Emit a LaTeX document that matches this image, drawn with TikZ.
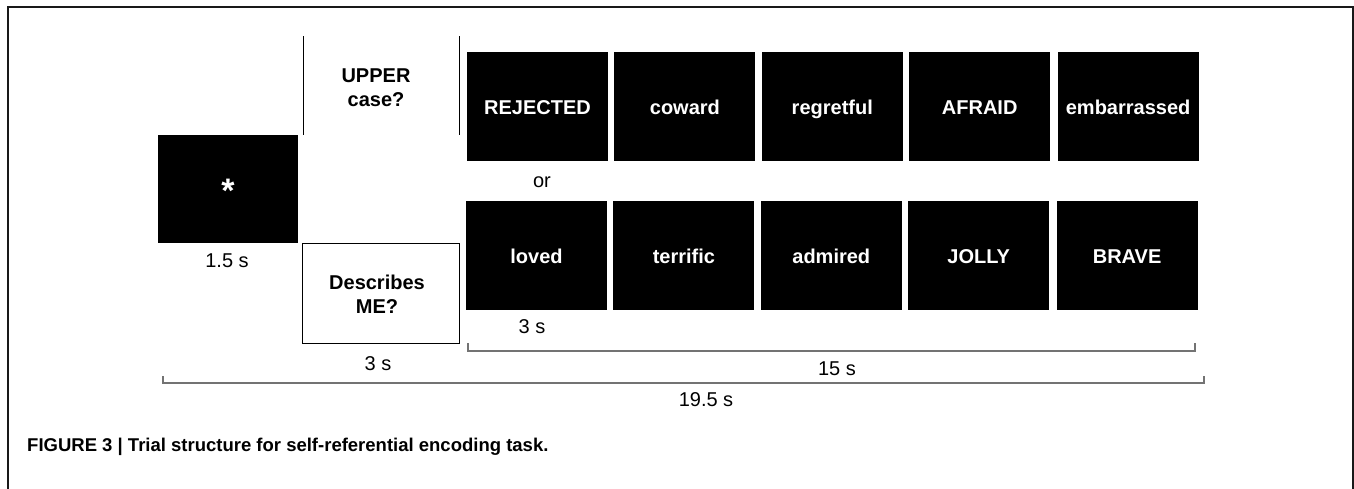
\documentclass[tikz,border=0pt]{standalone}
\usepackage{fontspec}
\setmainfont{Liberation Sans}
\usepackage{graphicx}
\usepackage{tikz}
\usetikzlibrary{positioning}

\begin{document}
\begin{tikzpicture}[
  x=1pt, y=-1pt,
  every node/.style={inner sep=0pt, font=\fontsize{20}{24}\selectfont},
  word/.style={fill=black, text=white, minimum width=141pt, minimum height=109pt,
    text height=20pt, text depth=4pt, font=\bfseries\fontsize{20}{24}\selectfont},
  prompt/.style={align=center, font=\bfseries\fontsize{20}{24}\selectfont},
  bracket/.style={draw=black!55, line width=1.2pt},
  frame/.style={draw=black!90, line width=1.5pt}
]
\useasboundingbox (0,0) rectangle (1354,488);
\draw[frame] (8,500) -- (8,7) -- (1353,7) -- (1353,500);

% fixation
\node[word, minimum width=140pt, minimum height=108pt, text height=30pt, text depth=4pt] (fix) at (228,189)
  {\fontsize{34}{34}\selectfont *};
\node (fixt) at (227,261) {1.5 s};

% prompts
\node[prompt] (upper) at (376,88) {UPPER\\case?};
\coordinate (ul1) at (303,36);
\coordinate (ul2) at (303,135);
\coordinate (ur1) at (459,36);
\coordinate (ur2) at (459,135);
\draw[line width=1pt] (ul1) -- (ul2);
\draw[line width=1pt] (ur1) -- (ur2);
\node[draw, line width=1pt, minimum width=157pt, minimum height=100pt] (me) at (380.5,293) {};
\node[prompt] (met) at (377,294) {Describes\\ME?};
\node (met2) at (378,364) {3 s};

% negative words
\node[word] (n1) at (537.5,106.5) {REJECTED};
\node[word, right=6pt of n1] (n2) {coward};
\node[word, right=6pt of n2] (n3) {regretful};
\node[word, right=6pt of n3] (n4) {AFRAID};
\node[word, right=7pt of n4] (n5) {embarrassed};

\node (or) at (542,182) {or};

% positive words
\node[word] (p1) at (536.5,255.5) {loved};
\node[word, right=6pt of p1] (p2) {terrific};
\node[word, right=6pt of p2] (p3) {admired};
\node[word, right=6pt of p3] (p4) {JOLLY};
\node[word, right=7pt of p4] (p5) {BRAVE};
\node (pt) at (532,327) {3 s};

% timing
\coordinate (a1) at (468,343);
\coordinate (a2) at (468,351);
\coordinate (a3) at (1195,351);
\coordinate (a4) at (1195,343);
\draw[bracket] (a1) -- (a2) -- (a3) -- (a4);
\node (at) at (837,369) {15 s};
\coordinate (b1) at (163,376);
\coordinate (b2) at (163,383);
\coordinate (b3) at (1204,383);
\coordinate (b4) at (1204,376);
\draw[bracket] (b1) -- (b2) -- (b3) -- (b4);
\node (bt) at (706,400) {19.5 s};

\node[anchor=west] (cap) at (27,447)
  {\bfseries\fontsize{18.5}{22}\selectfont FIGURE 3 | Trial structure for self-referential encoding task.};
\end{tikzpicture}
\end{document}
